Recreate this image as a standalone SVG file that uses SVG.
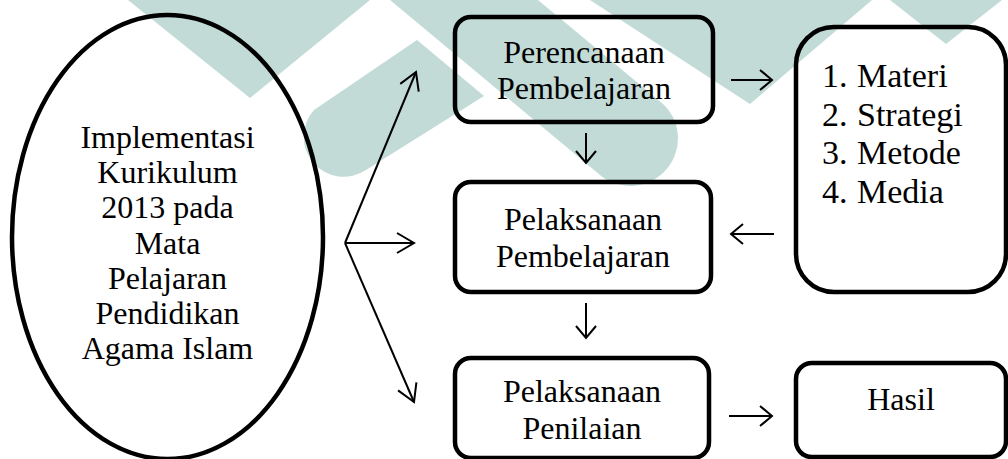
<svg xmlns="http://www.w3.org/2000/svg" width="1008" height="459" viewBox="0 0 1008 459">
<style>
.node{fill:none;stroke:#000;stroke-width:4.5}
.t{font-family:"Liberation Serif","Times New Roman",serif;font-size:32px;fill:#000}
.l{font-size:34px}
.c{text-anchor:middle}
.ln{stroke:#000;stroke-width:2;fill:none}
.wm{fill:#c2dbd7}
</style>
<defs>
<marker id="ah" markerUnits="userSpaceOnUse" markerWidth="24" markerHeight="24" refX="18" refY="11" orient="auto">
<path d="M1,1 L18,11 L1,21" fill="none" stroke="#000" stroke-width="2"/>
</marker>
<marker id="as" markerUnits="userSpaceOnUse" markerWidth="20" markerHeight="24" refX="13" refY="11" orient="auto">
<path d="M1,1 L13,11 L1,21" fill="none" stroke="#000" stroke-width="2"/>
</marker>
</defs>
<rect width="1008" height="459" fill="#fff"/>
<g id="watermark">
<polygon class="wm" points="128,0 370,0 250,98"/>
<path class="wm" d="M417,40 L484,96 L366,170 A40,40 0 0 1 314,110 Z"/>
<path class="wm" d="M390,0 L600,175 A47.5,47.5 0 0 0 660.8,101.9 L538,0 Z"/>
<polygon class="wm" points="590,0 872,0 750,104"/>
<polygon class="wm" points="890,0 1002,0 946,44"/>
</g>
<g id="connectors">
<line class="ln" x1="345" y1="243" x2="416" y2="72" marker-end="url(#ah)"/>
<line class="ln" x1="345" y1="243" x2="414" y2="243" marker-end="url(#ah)"/>
<line class="ln" x1="345" y1="243" x2="414" y2="402" marker-end="url(#ah)"/>
<line class="ln" x1="731" y1="80" x2="772" y2="80" marker-end="url(#as)"/>
<line class="ln" x1="586" y1="133" x2="586" y2="163" marker-end="url(#as)"/>
<line class="ln" x1="774" y1="234" x2="731" y2="234" marker-end="url(#as)"/>
<line class="ln" x1="586" y1="303" x2="586" y2="338" marker-end="url(#as)"/>
<line class="ln" x1="729" y1="416" x2="772" y2="416" marker-end="url(#as)"/>
</g>
<g id="n-implementasi">
<ellipse class="node" cx="167.5" cy="237" rx="155.5" ry="222"/>
<text class="t c" x="167.5" y="148">Implementasi</text>
<text class="t c" x="167.5" y="183">Kurikulum</text>
<text class="t c" x="167.5" y="218">2013 pada</text>
<text class="t c" x="167.5" y="254">Mata</text>
<text class="t c" x="167.5" y="289">Pelajaran</text>
<text class="t c" x="167.5" y="324">Pendidikan</text>
<text class="t c" x="167.5" y="359">Agama Islam</text>
</g>
<g id="n-perencanaan">
<rect class="node" x="455" y="17" width="258" height="105" rx="16"/>
<text class="t c" x="584" y="63">Perencanaan</text>
<text class="t c" x="584" y="99">Pembelajaran</text>
</g>
<g id="n-pelaksanaan-pembelajaran">
<rect class="node" x="455" y="182" width="256" height="110" rx="16"/>
<text class="t c" x="583" y="230">Pelaksanaan</text>
<text class="t c" x="583" y="267">Pembelajaran</text>
</g>
<g id="n-pelaksanaan-penilaian">
<rect class="node" x="455" y="358" width="254" height="100" rx="16"/>
<text class="t c" x="582" y="402">Pelaksanaan</text>
<text class="t c" x="582" y="439">Penilaian</text>
</g>
<g id="n-materi">
<rect class="node" x="796" y="27" width="210" height="265" rx="38"/>
<text class="t l" y="87"><tspan x="822">1.</tspan><tspan x="857">Materi</tspan></text>
<text class="t l" y="125.5"><tspan x="822">2.</tspan><tspan x="857">Strategi</tspan></text>
<text class="t l" y="164"><tspan x="822">3.</tspan><tspan x="857">Metode</tspan></text>
<text class="t l" y="202.5"><tspan x="822">4.</tspan><tspan x="857">Media</tspan></text>
</g>
<g id="n-hasil">
<rect class="node" x="796" y="363" width="210" height="94" rx="16"/>
<text class="t c" x="901" y="410">Hasil</text>
</g>
</svg>
